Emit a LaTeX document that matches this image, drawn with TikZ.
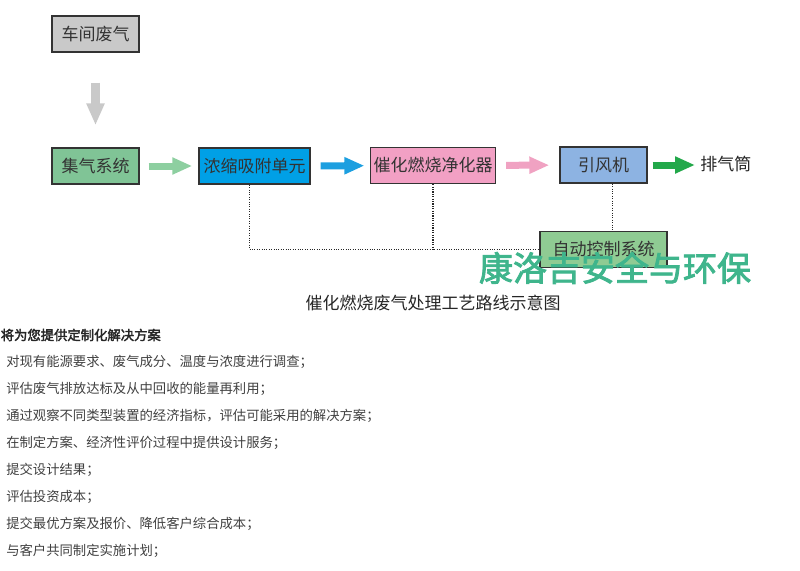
\documentclass[tikz,border=0pt]{standalone}
\usepackage{fontspec}
\setmainfont{Noto Sans CJK SC}
\newfontfamily\cjkbold[FakeBold=2.5]{Noto Sans CJK SC}
\usepackage{tikz}
\usetikzlibrary{arrows.meta}

\definecolor{boxline}{HTML}{333333}
\definecolor{grayfill}{HTML}{C9C9C9}
\definecolor{greenfill}{HTML}{80C496}
\definecolor{bluefill}{HTML}{00A0E6}
\definecolor{pinkfill}{HTML}{F2A0C4}
\definecolor{fanfill}{HTML}{8DB3E2}
\definecolor{ctrlfill}{HTML}{8FCB93}
\definecolor{arrowgreen}{HTML}{8DCFA0}
\definecolor{arrowblue}{HTML}{1C9FE0}
\definecolor{arrowpink}{HTML}{F0A2C2}
\definecolor{arrowdark}{HTML}{22A84A}
\definecolor{marktext}{HTML}{3FB58C}

\begin{document}
\begin{tikzpicture}[x=0.75pt,y=-0.75pt,
    box/.style={draw=boxline,line width=1.1pt,inner sep=0pt,minimum height=27pt,
        text=black!80,font=\fontsize{12.75}{15}\selectfont},
    flow/.style={line width=5.25pt,-{Triangle[length=15pt,width=12pt]}},
    ctrl/.style={densely dotted,line width=0.8pt,draw=black!85},
    item/.style={anchor=west,inner sep=0pt,text=black!75,font=\fontsize{10}{12}\selectfont}]
    \useasboundingbox (0,0) rectangle (800,571);
    % process boxes
    \node[box,fill=grayfill,minimum width=65.25pt] (cj) at (95.5,34) {车间废气};
    \node[box,fill=greenfill,minimum width=65.25pt] (jq) at (95.5,166) {集气系统};
    \node[box,fill=bluefill,minimum width=83.25pt] (ns) at (254.5,166) {浓缩吸附单元};
    \node[box,fill=pinkfill,minimum width=93.75pt] (ch) at (433,165.5) {催化燃烧净化器};
    \node[box,fill=fanfill,minimum width=65.25pt] (yf) at (603.5,165) {引风机};
    \node[anchor=west,inner sep=0pt,text=black!85,font=\fontsize{12.75}{15}\selectfont] (pq) at (700,164) {排气筒};
    \node[box,fill=ctrlfill,minimum width=95.25pt] (zk) at (603.5,249.5) {自动控制系统};

    % gas flow
    \draw[line width=6.75pt,grayfill,-{Triangle[length=16.5pt,width=12.75pt]},shorten <=22.5pt,shorten >=16.5pt] (cj) -- (jq);
    \draw[flow,arrowgreen,shorten <=6.75pt,shorten >=4.5pt] (jq) -- (ns);
    \draw[flow,arrowblue,shorten <=7.5pt,shorten >=4pt] (ns) -- (ch);
    \draw[flow,arrowpink,shorten <=7.5pt,shorten >=7.5pt] (ch) -- (yf);
    \draw[flow,arrowdark,shorten <=3.75pt,shorten >=3.75pt] (yf.east) -- (pq.west |- yf.east);

    % control lines
    \draw[ctrl] ([xshift=-3.75pt]ns.south) |- (zk.west);
    \draw[ctrl] (ch.south) -- (ch.south |- zk.west);
    \draw[ctrl] ([xshift=6.4pt]yf.south) -- ([xshift=6.4pt]yf.south |- zk.north);

    % watermark and caption
    \node[inner sep=0pt,text=marktext,font=\cjkbold\fontsize{25.5}{28}\selectfont] (mark) at (615,268) {康洛吉安全与环保};
    \node[inner sep=0pt,text=black!85,font=\fontsize{12.75}{15}\selectfont] (cap) at (433,303) {催化燃烧废气处理工艺路线示意图};

    % service list
    \node[item,text=black!85,font=\cjkbold\fontsize{10}{12}\selectfont] (head) at (0.5,335) {将为您提供定制化解决方案};
    \foreach \t [count=\i] in {对现有能源要求、废气成分、温度与浓度进行调查；,
        评估废气排放达标及从中回收的能量再利用；,
        通过观察不同类型装置的经济指标，评估可能采用的解决方案；,
        在制定方案、经济性评价过程中提供设计服务；,
        提交设计结果；,
        评估投资成本；,
        提交最优方案及报价、降低客户综合成本；,
        与客户共同制定实施计划；}
        \node[item] (l\i) at (6,335+27*\i) {\t};
\end{tikzpicture}
\end{document}
